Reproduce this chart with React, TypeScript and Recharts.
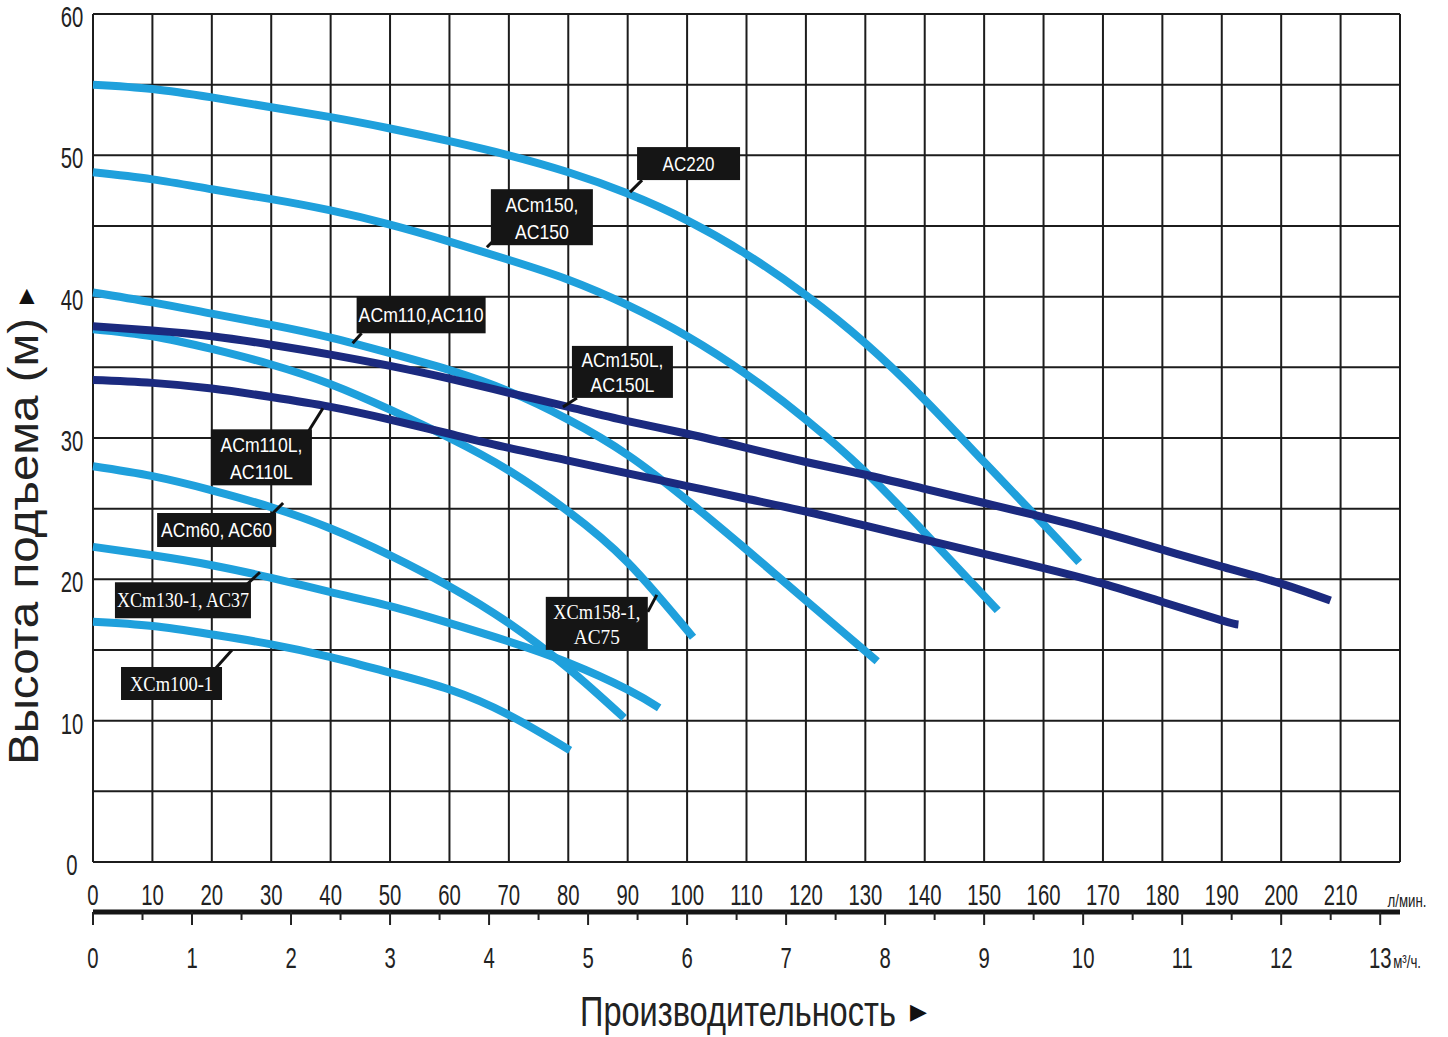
import React from "react";
import { LineChart, Line, XAxis, YAxis, CartesianGrid, ReferenceDot, Label } from "recharts";

// pump head curves: [flow, l/min ; head, m]
const ac220 = [[0, 55], [10, 54.7], [20, 54.1], [30, 53.4], [40, 52.7], [50, 51.9], [60, 51.0], [70, 50.0], [80, 48.8], [90, 47.3], [100, 45.4], [110, 43.0], [120, 40.1], [130, 36.7], [140, 32.7], [150, 28.3], [160, 23.9], [166, 21.2]];
const acm150 = [[0, 48.8], [10, 48.3], [20, 47.6], [30, 46.9], [40, 46.1], [50, 45.1], [60, 43.9], [70, 42.6], [80, 41.2], [90, 39.4], [100, 37.2], [110, 34.5], [120, 31.3], [130, 27.6], [140, 23.3], [152.3, 17.8]];
const acm110 = [[0, 40.3], [10, 39.6], [20, 38.8], [30, 38.0], [40, 37.1], [50, 36.0], [60, 34.8], [70, 33.3], [80, 31.3], [90, 28.8], [100, 25.6], [110, 22.1], [120, 18.5], [132, 14.2]];
const xcm158 = [[0, 37.7], [10, 37.2], [20, 36.3], [30, 35.2], [40, 33.8], [50, 32.0], [60, 30.0], [70, 27.7], [80, 24.8], [90, 21.2], [101, 15.9]];
const acm60 = [[0, 28.0], [10, 27.3], [20, 26.3], [30, 25.1], [40, 23.6], [50, 21.7], [60, 19.5], [70, 16.9], [80, 13.7], [89.4, 10.2]];
const xcm130 = [[0, 22.3], [10, 21.7], [20, 21.0], [30, 20.1], [40, 19.1], [50, 18.1], [60, 16.9], [70, 15.6], [80, 14.1], [90, 12.2], [95.3, 10.9]];
const xcm100 = [[0, 17.0], [10, 16.7], [20, 16.1], [30, 15.4], [40, 14.5], [50, 13.4], [60, 12.2], [70, 10.4], [80.3, 7.9]];
const acm150L = [[0, 37.9], [10, 37.6], [20, 37.2], [30, 36.6], [40, 35.9], [50, 35.1], [60, 34.2], [70, 33.2], [80, 32.2], [90, 31.2], [100, 30.3], [110, 29.3], [120, 28.3], [130, 27.4], [140, 26.4], [150, 25.4], [160, 24.4], [170, 23.3], [180, 22.1], [190, 20.9], [200, 19.7], [208.3, 18.5]];
const acm110L = [[0, 34.1], [10, 33.9], [20, 33.5], [30, 32.9], [40, 32.2], [50, 31.3], [60, 30.3], [70, 29.3], [80, 28.4], [90, 27.5], [100, 26.6], [110, 25.7], [120, 24.8], [130, 23.8], [140, 22.8], [150, 21.8], [160, 20.8], [170, 19.7], [180, 18.4], [190, 17.1], [192.8, 16.8]];

const lightCurves = [ac220, acm150, acm110, xcm158, acm60, xcm130, xcm100];
const darkCurves = [acm150L, acm110L];

const flowTicks = [0, 10, 20, 30, 40, 50, 60, 70, 80, 90, 100, 110, 120, 130, 140, 150, 160, 170, 180, 190, 200, 210, 220];
const m3Ticks = [0, 0.5, 1, 1.5, 2, 2.5, 3, 3.5, 4, 4.5, 5, 5.5, 6, 6.5, 7, 7.5, 8, 8.5, 9, 9.5, 10, 10.5, 11, 11.5, 12, 12.5, 13];
const headTicks = [0, 5, 10, 15, 20, 25, 30, 35, 40, 45, 50, 55, 60];
const flowMax = 220;
const m3Max = flowMax * 0.06; // l/min -> m3/h

// curve tags: text lines and the point (flow, head) the pointer touches
const tags = [
  { name: "ac220", lines: ["AC220"], q: 90.4, h: 47.4 },
  { name: "acm150", lines: ["ACm150,", "AC150"], q: 66.3, h: 43.5 },
  { name: "acm110", lines: ["ACm110,AC110"], q: 43.7, h: 36.7 },
  { name: "acm150L", lines: ["ACm150L,", "AC150L"], q: 79.1, h: 32.2 },
  { name: "acm110L", lines: ["ACm110L,", "AC110L"], q: 38.7, h: 32.1 },
  { name: "acm60", lines: ["ACm60, AC60"], q: 32.0, h: 25.4 },
  { name: "xcm130", lines: ["XCm130-1, AC37"], q: 28.1, h: 20.5 },
  { name: "xcm100", lines: ["XCm100-1"], q: 23.4, h: 15.0 },
  { name: "xcm158", lines: ["XCm158-1,", "AC75"], q: 94.9, h: 18.9 },
];

// box placement relative to the pointer tip (px)
const tagBoxes: Record<string, any> = {
  ac220: { dx: 7, dy: -45, w: 103, h: 33, px: 12, py: -12, lens: [52] },
  acm150: { dx: 4, dy: -58, w: 102, h: 56, px: 8, py: -8, lens: [73, 54] },
  acm110: { dx: 4, dy: -47, w: 129, h: 37, px: 9, py: -10, lens: [125] },
  acm150L: { dx: 9, dy: -61, w: 101, h: 52, px: 14, py: -9, lens: [82, 64] },
  acm110L: { dx: -112, dy: 21, w: 101, h: 56, px: -15, py: 24, lens: [82, 63] },
  acm60: { dx: -126, dy: 10, w: 119, h: 34, px: -13, py: 13, lens: [111] },
  xcm130: { dx: -145, dy: 10, w: 136, h: 36, px: -14, py: 13, lens: [132], serif: true },
  xcm100: { dx: -111, dy: 17, w: 101, h: 33, px: -17, py: 19, lens: [83], serif: true },
  xcm158: { dx: -111, dy: 2, w: 102, h: 53, px: -9, py: 17, lens: [87, 46], serif: true },
};

const LIGHT = "#1fa0dc";
const DARK = "#1b2a7f";
const SANS = "'Liberation Sans', Arial, sans-serif";
const SERIF = "'Liberation Serif', 'Times New Roman', serif";

const toRows = (arr: number[][]) => arr.map(([q, h]) => ({ q, h }));

function Tag({ cx, cy, tag }: any) {
  const b = tagBoxes[tag.name];
  const x0 = cx + b.dx;
  const y0 = cy + b.dy;
  const n = tag.lines.length;
  return (
    <g>
      <line x1={cx} y1={cy} x2={cx + b.px} y2={cy + b.py} stroke="#111" strokeWidth={3} />
      <rect x={x0} y={y0} width={b.w} height={b.h} fill="#151515" />
      {tag.lines.map((s: string, i: number) => {
        const mid = n === 1 ? y0 + b.h / 2 : y0 + b.h * (i === 0 ? 0.28 : 0.76);
        return (
          <text
            key={i}
            x={x0 + b.w / 2}
            y={mid + 7}
            textAnchor="middle"
            fill="#fff"
            fontSize={21}
            fontFamily={b.serif ? SERIF : SANS}
            textLength={b.lens[i]}
            lengthAdjust="spacingAndGlyphs"
          >
            {s}
          </text>
        );
      })}
    </g>
  );
}

// narrow looking numbers
function Num({ x, y, children, size = 29, anchor = "middle" }: any) {
  return (
    <text transform={`translate(${x},${y}) scale(0.7,1)`} textAnchor={anchor} fontSize={size} fontFamily={SANS} fill="#222">
      {children}
    </text>
  );
}

const FlowTick = ({ x, y, payload }: any) => {
  if (payload.value === flowMax) {
    return <Num x={x + 7} y={y + 45} size={19}>л/мин.</Num>;
  }
  return <Num x={x} y={y + 43}>{payload.value}</Num>;
};

const M3Tick = ({ x, y, payload }: any) => {
  const v = payload.value;
  const major = Number.isInteger(v);
  return (
    <g>
      <line x1={x} y1={y} x2={x} y2={y + (major ? 13 : 8)} stroke="#222" strokeWidth={2} />
      {major && <Num x={x} y={y + 56}>{v}</Num>}
      {v === 13 && <Num x={x + 13} y={y + 56} size={19} anchor="start">м³/ч.</Num>}
    </g>
  );
};

const HeadTick = ({ x, y, payload }: any) => {
  if (payload.value % 10 !== 0) return <g />;
  return <Num x={x - 21} y={y + 13}>{payload.value}</Num>;
};

const YTitle = ({ viewBox }: any) => {
  const bottom = viewBox.y + 751;
  return (
    <text transform={`translate(38,${bottom}) rotate(-90)`} fontFamily={SANS} fill="#222">
      <tspan fontSize={42} textLength={447} lengthAdjust="spacingAndGlyphs">
        Высота подъема (м)
      </tspan>
      <tspan dx={14} dy={-6} fontSize={20} fill="#111">
        ▶
      </tspan>
    </text>
  );
};

const XTitle = ({ viewBox }: any) => {
  const left = viewBox.x + 487;
  const base = viewBox.y + 114;
  return (
    <g>
      <text transform={`translate(${left},${base}) scale(0.775,1)`} fontFamily={SANS} fontSize={42} fill="#222">
        Производительность
      </text>
      <text x={left + 330} y={base - 7} fontSize={22} fill="#111">
        ▶
      </text>
    </g>
  );
};

export default function App() {
  return (
    <div style={{ position: "absolute", left: 0, top: 0, background: "#fff" }}>
      <LineChart width={1448} height={1037} margin={{ top: 14, right: 48, left: 0, bottom: 55 }}>
        <CartesianGrid stroke="#1c1c1c" strokeWidth={2} />
        <XAxis
          dataKey="q"
          type="number"
          domain={[0, flowMax]}
          ticks={flowTicks}
          interval={0}
          height={50}
          axisLine={false}
          tickLine={false}
          tickSize={0}
          tickMargin={0}
          tick={<FlowTick />}
        />
        <XAxis
          xAxisId="m3"
          dataKey="m"
          type="number"
          domain={[0, m3Max]}
          ticks={m3Ticks}
          interval={0}
          height={70}
          axisLine={{ stroke: "#151515", strokeWidth: 5 }}
          tickLine={false}
          tickSize={0}
          tickMargin={0}
          tick={<M3Tick />}
        >
          <Label content={<XTitle />} />
        </XAxis>
        <YAxis
          type="number"
          domain={[0, 60]}
          ticks={headTicks}
          interval={0}
          width={93}
          axisLine={false}
          tickLine={false}
          tickSize={0}
          tickMargin={0}
          tick={<HeadTick />}
        >
          <Label content={<YTitle />} />
        </YAxis>
        {/* invisible helper so the m3/h axis gets a domain */}
        <Line
          xAxisId="m3"
          data={[{ m: 0, h: 0 }, { m: m3Max, h: 0 }]}
          dataKey="h"
          stroke="none"
          dot={false}
          activeDot={false}
          isAnimationActive={false}
        />
        {lightCurves.map((c, i) => (
          <Line
            key={"l" + i}
            data={toRows(c)}
            dataKey="h"
            type="natural"
            stroke={LIGHT}
            strokeWidth={8}
            strokeLinecap="butt"
            dot={false}
            activeDot={false}
            isAnimationActive={false}
          />
        ))}
        {darkCurves.map((c, i) => (
          <Line
            key={"d" + i}
            data={toRows(c)}
            dataKey="h"
            type="natural"
            stroke={DARK}
            strokeWidth={8}
            strokeLinecap="butt"
            dot={false}
            activeDot={false}
            isAnimationActive={false}
          />
        ))}
        {tags.map((t) => (
          <ReferenceDot
            key={t.name}
            x={t.q}
            y={t.h}
            r={0}
            ifOverflow="visible"
            shape={(p: any) => <Tag cx={p.cx} cy={p.cy} tag={t} />}
          />
        ))}
      </LineChart>
    </div>
  );
}
